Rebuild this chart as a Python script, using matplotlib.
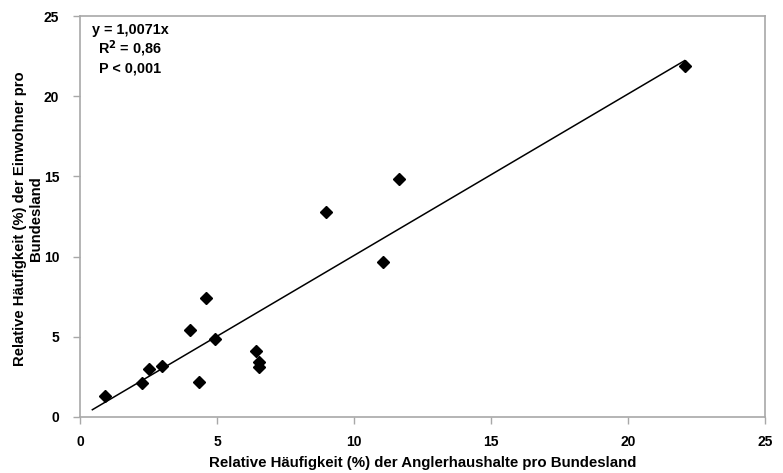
import numpy as np
import matplotlib.pyplot as plt

plt.rcParams['font.family'] = ['Liberation Sans', 'DejaVu Sans']

# Anteil Anglerhaushalte vs. Anteil Einwohner je Bundesland (%)
angler = [0.91, 2.26, 2.53, 2.99, 4.03, 4.34, 4.60, 4.92, 6.41, 6.54, 6.54,
          8.96, 11.04, 11.65, 22.07]
einwohner = [1.31, 2.10, 2.97, 3.18, 5.40, 2.16, 7.40, 4.88, 4.13, 3.43, 3.14,
             12.80, 9.68, 14.84, 21.90]

slope = 1.0071
line_x = np.array([0.45, 22.07])

fig = plt.figure(figsize=(7.83, 4.73), dpi=100)
ax = fig.add_axes([0.1022, 0.1184, 0.8748, 0.8476])

ax.plot(line_x, slope * line_x, color='black', lw=1.1)
ax.plot(angler, einwohner, linestyle='none', marker='D', markersize=6.3,
        color='black')

ax.set_xlim(0, 25)
ax.set_ylim(0, 25)
ax.set_xticks(np.arange(0, 26, 5))
ax.set_yticks(np.arange(0, 26, 5))

for s in ax.spines.values():
    s.set_color('#a8a8a8')
    s.set_linewidth(1.2)
ax.tick_params(direction='out', length=5, width=1, color='#a8a8a8',
               labelsize=10)
ax.tick_params(axis='x', pad=8)
ax.tick_params(axis='y', pad=10)
for lbl in ax.get_xticklabels() + ax.get_yticklabels():
    lbl.set_fontweight('bold')

ax.set_xlabel('Relative Häufigkeit (%) der Anglerhaushalte pro Bundesland',
              fontsize=10.8, fontweight='bold')
ax.set_ylabel('Relative Häufigkeit (%) der Einwohner pro\nBundesland',
              fontsize=10.7, fontweight='bold')
ax.xaxis.set_label_coords(0.5, -0.097)
ax.yaxis.set_label_coords(-0.054, 0.494)

# Regressionsgleichung oben links
stats = ['y = 1,0071x', r'R$^\mathbf{2}$ = 0,86', 'P < 0,001']
for i, txt in enumerate(stats):
    ax.text(0.073, 0.965 - i * 0.0475, txt, transform=ax.transAxes,
            ha='center', va='center', fontsize=10.4, fontweight='bold')

fig.savefig('out.png', dpi=100)
